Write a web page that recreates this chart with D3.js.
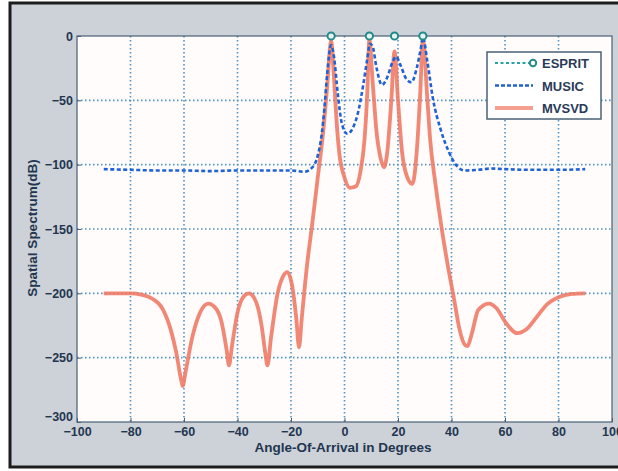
<!DOCTYPE html>
<html>
<head>
<meta charset="utf-8">
<script src="https://cdn.jsdelivr.net/npm/d3@7"></script>
<style>
  body { margin: 0; background: #ffffff; }
  svg text { font-family: "Liberation Sans", Arial, sans-serif; }
  .tick text { font-weight: bold; font-size: 12.5px; fill: #223650; }
</style>
</head>
<body>
<div id="chart"></div>
<script>
// data
var xTicks = [-100, -80, -60, -40, -20, 0, 20, 40, 60, 80, 100];
var yTicks = [0, -50, -100, -150, -200, -250, -300];

var espritAngles = [-5, 9.3, 18.7, 29.3];
var espritValues = [0, 0, 0, 0];

var musicAngles = [-90, -80, -70, -60, -50, -40, -30, -20, -15, -12, -10, -8.5, -7.5, -6.5, -5,
  -4, -2.5, -1, 1, 3, 5, 7, 8.5, 9.5, 10.5, 12, 14, 16, 18, 19.3, 21, 23, 25, 27, 28.5, 29.3,
  31, 33, 36, 39, 42, 45, 50, 55, 60, 70, 80, 90];
var musicValues = [-103.5, -104, -104.5, -104.5, -105, -104.5, -104.5, -104.5, -105.5, -102, -93, -76, -56, -30, -7,
  -15, -45, -68, -76, -72, -60, -38, -18, -6, -8, -25, -38, -32, -20, -16, -23, -33, -36, -25, -10, -1,
  -20, -48, -73, -90, -101, -104.5, -104, -103, -103.5, -104, -104, -103.5];

var mvsvdAngles = [-90, -80, -76, -72, -68, -65, -63, -61, -60.5, -59.5, -57, -54, -51, -48, -46, -44,
  -43.2, -42, -40, -37.5, -35.7, -33, -31, -29.5, -28.8, -27.5, -25, -23, -21.4, -19.5, -18, -17,
  -16, -14, -12, -10, -8, -6.5, -5, -4, -3, -2, 0, 2, 4.2, 6, 7.5, 8.5, 9.3,
  10.5, 12, 13.5, 14.8, 16, 17.5, 18.7, 20, 21.5, 23.5, 25.4, 27, 28.3, 29.3,
  31, 32, 34, 36, 38.5, 41, 43, 45, 46, 47.5, 50, 54, 57, 60, 64.7, 68, 72, 76, 80, 85, 90];
var mvsvdValues = [-200, -200, -201, -204, -212, -228, -245, -268, -272, -262, -235, -215, -208, -212, -222, -245,
  -256, -240, -215, -202, -200, -207, -225, -248, -256, -235, -200, -187, -183.5, -195, -220, -242,
  -220, -178, -145, -110, -75, -40, -4, -30, -65, -90, -110, -118, -117, -105, -80, -45, -3,
  -35, -75, -95, -102, -90, -50, -12, -50, -90, -110, -115, -90, -45, -3,
  -50, -80, -115, -145, -177, -205, -228, -240, -241, -232, -213, -208, -212, -222, -231, -228, -218, -208, -203, -200.5, -200];

var W = 618, H = 471;
var plot = { left: 77, right: 612, top: 36, bottom: 422 };

var svg = d3.select("#chart").append("svg")
  .attr("width", W)
  .attr("height", H);

// outer frame
svg.append("rect")
  .attr("x", 10).attr("y", 3)
  .attr("width", 620).attr("height", 464)
  .attr("fill", "#cdd1d8")
  .attr("stroke", "#1c1c1c")
  .attr("stroke-width", 3);

svg.append("rect")
  .attr("x", plot.left).attr("y", plot.top)
  .attr("width", plot.right - plot.left).attr("height", plot.bottom - plot.top)
  .attr("fill", "#fffcfb");

var x = d3.scaleLinear().domain([-100, 100]).range([plot.left, plot.right]);
var y = d3.scaleLinear().domain([-300, 0]).range([plot.bottom, plot.top]);

// grid
var grid = svg.append("g").attr("class", "grid");
grid.selectAll(".vg").data(xTicks.slice(1, -1)).enter().append("line")
  .attr("x1", d => x(d)).attr("x2", d => x(d))
  .attr("y1", plot.top).attr("y2", plot.bottom)
  .attr("stroke", "#4f93c4").attr("stroke-width", 1.6)
  .attr("stroke-dasharray", "1.5,2.5");
grid.selectAll(".hg").data(yTicks.slice(1, -1)).enter().append("line")
  .attr("x1", plot.left).attr("x2", plot.right)
  .attr("y1", d => y(d)).attr("y2", d => y(d))
  .attr("stroke", "#4f93c4").attr("stroke-width", 1.6)
  .attr("stroke-dasharray", "1.5,2.5");

// axes
var xAxis = svg.append("g")
  .attr("transform", "translate(0," + plot.bottom + ")")
  .call(d3.axisBottom(x).tickValues(xTicks).tickSize(-4).tickPadding(3));
xAxis.select(".domain").remove();
xAxis.selectAll("line").attr("stroke", "#4a6078");
xAxis.selectAll("text").attr("dy", "0.85em");

var yAxis = svg.append("g")
  .attr("transform", "translate(" + plot.left + ",0)")
  .call(d3.axisLeft(y).tickValues(yTicks).tickSize(-4).tickPadding(4));
yAxis.select(".domain").remove();
yAxis.selectAll("line").attr("stroke", "#4a6078");
yAxis.selectAll("text").filter(d => d === -300).attr("dy", "-0.15em");

svg.append("rect")
  .attr("x", plot.left).attr("y", plot.top)
  .attr("width", plot.right - plot.left).attr("height", plot.bottom - plot.top)
  .attr("fill", "none")
  .attr("stroke", "#4a6078")
  .attr("stroke-width", 1.2);

// axis titles
svg.append("text")
  .attr("x", 343)
  .attr("y", 452)
  .attr("text-anchor", "middle")
  .attr("font-weight", "bold")
  .attr("font-size", "13.5px")
  .attr("fill", "#223650")
  .text("Angle-Of-Arrival in Degrees");

svg.append("text")
  .attr("transform", "translate(37,228)rotate(-90)")
  .attr("text-anchor", "middle")
  .attr("font-weight", "bold")
  .attr("font-size", "13.5px")
  .attr("fill", "#223650")
  .text("Spatial Spectrum(dB)");

// curves
var mvsvd = mvsvdAngles.map((a, i) => [a, mvsvdValues[i]]);
var music = musicAngles.map((a, i) => [a, musicValues[i]]);
var esprit = espritAngles.map((a, i) => [a, espritValues[i]]);

var line = d3.line()
  .x(d => x(d[0]))
  .y(d => y(d[1]))
  .curve(d3.curveMonotoneX);

svg.append("path")
  .datum(mvsvd)
  .attr("d", line)
  .attr("fill", "none")
  .attr("stroke", "#f07a66")
  .attr("stroke-width", 3.8)
  .attr("stroke-linejoin", "round")
  .attr("opacity", 0.9);

svg.append("path")
  .datum(music)
  .attr("d", line)
  .attr("fill", "none")
  .attr("stroke", "#1f62d6")
  .attr("stroke-width", 2.6)
  .attr("stroke-dasharray", "4,2.5");

svg.selectAll(".esp").data(esprit).enter().append("circle")
  .attr("cx", d => x(d[0]))
  .attr("cy", d => y(d[1]))
  .attr("r", 3.6)
  .attr("fill", "#e8f2f0")
  .attr("stroke", "#238c8a")
  .attr("stroke-width", 2);

// legend
var legend = svg.append("g").attr("transform", "translate(487,52)");
legend.append("rect")
  .attr("width", 114).attr("height", 67)
  .attr("fill", "#ffffff")
  .attr("stroke", "#4a6078")
  .attr("stroke-width", 1.5);

var items = [
  { name: "ESPRIT", color: "#2aa3a8", width: 2, dash: "3,2.5" },
  { name: "MUSIC", color: "#1f62d6", width: 2.6, dash: "4,2" },
  { name: "MVSVD", color: "#f4a090", width: 4, dash: null }
];
items.forEach(function(it, i) {
  var ly = 11 + i * 22.5;
  legend.append("line")
    .attr("x1", 8).attr("x2", it.name === "ESPRIT" ? 42 : 46)
    .attr("y1", ly).attr("y2", ly)
    .attr("stroke", it.color)
    .attr("stroke-width", it.width)
    .attr("stroke-dasharray", it.dash);
  if (it.name === "ESPRIT") {
    legend.append("circle")
      .attr("cx", 46).attr("cy", ly).attr("r", 3.2)
      .attr("fill", "#ffffff")
      .attr("stroke", "#238c8a").attr("stroke-width", 2);
  }
  legend.append("text")
    .attr("x", 55).attr("y", ly + 5)
    .attr("font-weight", "bold")
    .attr("font-size", "13px")
    .attr("fill", "#2a3a58")
    .text(it.name);
});
</script>
</body>
</html>
